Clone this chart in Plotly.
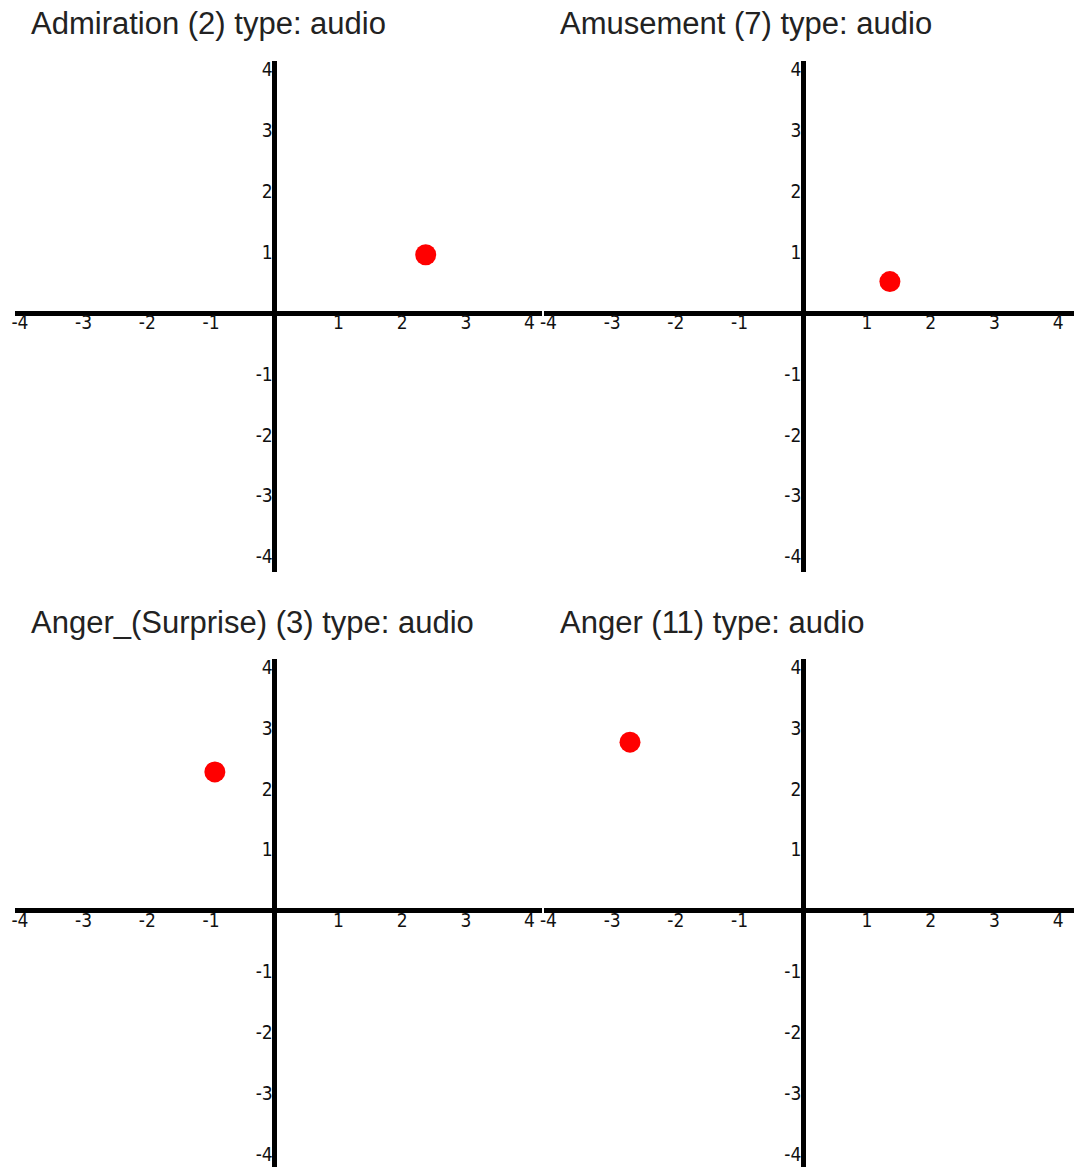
import plotly.graph_objects as go

# Emotion ratings (valence on x, arousal on y) for each category
categories = ["Admiration", "Amusement", "Anger_(Surprise)", "Anger"]
counts = [2, 7, 3, 11]
stim_type = ["audio", "audio", "audio", "audio"]
valence = [2.37, 1.36, -0.94, -2.72]
arousal = [0.96, 0.52, 2.28, 2.77]
tick_values = [-4, -3, -2, -1, 1, 2, 3, 4]
tick_labels = ["-4", "-3", "-2", "-1", "1", "2", "3", "4"]

W, H = 1074, 1167

# Panel layout in pixels: (left, right, top, bottom, x of origin, y of origin)
panels = [
    (10, 540, 58, 570, 271, 311),
    (542, 1074, 58, 570, 802, 311),
    (10, 540, 658, 1167, 271, 910),
    (542, 1074, 658, 1167, 802, 910),
]
UX, UY = 64.0, 61.0  # pixels per unit

fig = go.Figure()
tick_font = dict(family="DejaVu Sans Condensed, DejaVu Sans, sans-serif", size=19, color="#111")

for i, (name, n, t, vx, vy) in enumerate(zip(categories, counts, stim_type, valence, arousal)):
    l, r, tp, bt, ox, oy = panels[i]
    k = "" if i == 0 else str(i + 1)
    xa, ya = "xaxis" + k, "yaxis" + k
    fig.add_trace(go.Scatter(
        x=[vx], y=[vy], mode="markers",
        marker=dict(size=21, color="#ff0000", line=dict(width=0)),
        xaxis="x" + k, yaxis="y" + k, showlegend=False, hoverinfo="x+y",
    ))
    # x tick labels hug the horizontal zero line
    fig.layout[xa] = dict(
        domain=[l / W, r / W],
        range=[-(ox - l) / UX, (r - ox) / UX],
        anchor="free", position=1 - (oy - 4) / H,
        showgrid=False, showline=False,
        zeroline=True, zerolinewidth=5, zerolinecolor="#000",
        tickmode="array", tickvals=tick_values, ticktext=tick_labels,
        ticks="", ticklabelstandoff=0, tickfont=tick_font, fixedrange=True,
    )
    # y tick labels sit just left of the vertical zero line
    fig.layout[ya] = dict(
        domain=[1 - bt / H, 1 - tp / H],
        range=[-(bt - oy) / UY, (oy - tp) / UY],
        anchor="free", position=ox / W,
        showgrid=False, showline=False,
        zeroline=True, zerolinewidth=5, zerolinecolor="#000",
        tickmode="array", tickvals=tick_values, ticktext=tick_labels,
        ticks="", ticklabelstandoff=2, tickfont=tick_font, fixedrange=True,
    )
    fig.add_annotation(
        text=f"{name} ({n}) type: {t}",
        xref="paper", yref="paper",
        x=(l + 14) / W, y=1 - (tp - 37) / H,
        xanchor="left", yanchor="middle", showarrow=False,
        font=dict(family="Liberation Sans, Arial, sans-serif", size=31, color="#222"),
    )

fig.update_layout(
    width=W, height=H,
    margin=dict(l=0, r=0, t=0, b=0),
    paper_bgcolor="white", plot_bgcolor="white",
)

fig.write_html("out.html")
